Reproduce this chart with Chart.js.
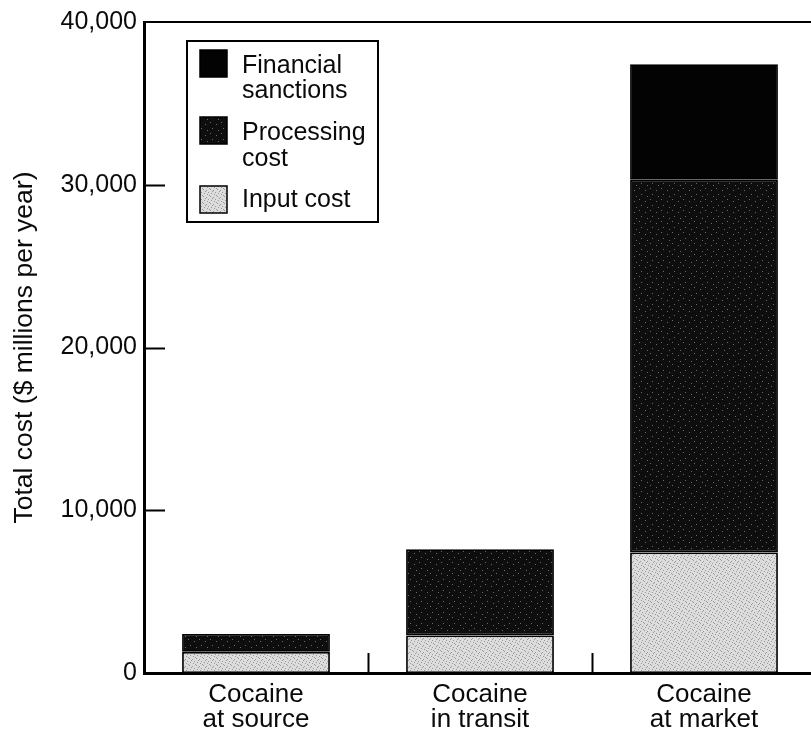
<!DOCTYPE html>
<html>
<head>
<meta charset="utf-8">
<script src="https://cdn.jsdelivr.net/npm/chart.js@4"></script>
<style>
  html, body { margin: 0; padding: 0; background: #fff; overflow: hidden; }
  #wrap { position: absolute; left: 0; top: 0; width: 816px; height: 739px; }
</style>
</head>
<body>
<div id="wrap"><canvas id="c" width="816" height="739"></canvas></div>
<script>
const categories = [['Cocaine', 'at source'], ['Cocaine', 'in transit'], ['Cocaine', 'at market']];
const inputCost = [1300, 2300, 7400];
const processingCost = [1100, 5300, 22900];
const financialSanctions = [null, null, 7100];
const yTicks = [0, 10000, 20000, 30000, 40000];
const seriesNames = ['Input cost', 'Processing cost', 'Financial sanctions'];
const legendLines = [['Financial', 'sanctions'], ['Processing', 'cost'], ['Input cost']];

const FONT = '"Liberation Sans", Arial, Helvetica, sans-serif';

function makePattern(base, dot, size, dots) {
  const c = document.createElement('canvas');
  c.width = size; c.height = size;
  const g = c.getContext('2d');
  g.fillStyle = base; g.fillRect(0, 0, size, size);
  g.fillStyle = dot;
  dots.forEach(([x, y]) => g.fillRect(x, y, 1, 1));
  return g.createPattern(c, 'repeat');
}
const inputFill = makePattern('#dcdcdc', '#9a9a9a', 7, [[0,0],[3,1],[5,3],[1,4],[4,5],[6,6],[2,2]]);
const procFill = makePattern('#0e0e0e', '#6a6a6a', 11, [[1,1],[7,3],[3,7],[9,9]]);
const sancFill = '#030303';

const decor = {
  id: 'decor',
  afterDraw(chart) {
    const { ctx, chartArea: a, scales: { x, y } } = chart;
    ctx.save();
    ctx.strokeStyle = '#000';
    ctx.lineWidth = 2;
    ctx.beginPath(); ctx.moveTo(a.left, a.top); ctx.lineTo(a.right, a.top); ctx.stroke();
    yTicks.forEach(v => {
      if (v <= 0 || v >= 40000) return;
      const py = Math.round(y.getPixelForValue(v)) + 0.5;
      ctx.beginPath(); ctx.moveTo(a.left, py); ctx.lineTo(a.left + 21, py); ctx.stroke();
    });
    for (let i = 1; i < categories.length; i++) {
      const px = Math.round((x.getPixelForValue(i - 1) + x.getPixelForValue(i)) / 2) + 0.5;
      ctx.beginPath(); ctx.moveTo(px, a.bottom); ctx.lineTo(px, a.bottom - 20); ctx.stroke();
    }
    const lx = a.left + 43, ly = a.top + 19, lw = 191, lh = 181;
    ctx.fillStyle = '#fff';
    ctx.fillRect(lx, ly, lw, lh);
    ctx.lineWidth = 2;
    ctx.strokeRect(lx, ly, lw, lh);
    const fills = [sancFill, procFill, inputFill];
    const swY = [50, 117, 186];
    const textBase = [[73, 98], [140, 166], [207]];
    ctx.font = '25px ' + FONT;
    ctx.textBaseline = 'alphabetic';
    ctx.textAlign = 'left';
    for (let k = 0; k < 3; k++) {
      ctx.fillStyle = fills[k];
      ctx.fillRect(200, swY[k], 27, 27);
      ctx.lineWidth = 1.5;
      ctx.strokeRect(200, swY[k], 27, 27);
      ctx.fillStyle = '#0a0a0a';
      legendLines[k].forEach((t, j) => ctx.fillText(t, 242, textBase[k][j]));
    }
    ctx.restore();
  }
};

new Chart(document.getElementById('c'), {
  type: 'bar',
  data: {
    labels: categories,
    datasets: [
      { label: seriesNames[0], data: inputCost, backgroundColor: inputFill, borderColor: '#000', borderWidth: 1.8, borderSkipped: false },
      { label: seriesNames[1], data: processingCost, backgroundColor: procFill, borderColor: '#000', borderWidth: 1.8, borderSkipped: false },
      { label: seriesNames[2], data: financialSanctions, backgroundColor: sancFill, borderColor: '#000', borderWidth: 1.8, borderSkipped: false }
    ]
  },
  options: {
    responsive: false,
    animation: false,
    events: [],
    layout: { padding: { top: 18, right: 0, left: 0, bottom: 0 } },
    plugins: { legend: { display: false }, tooltip: { enabled: false } },
    datasets: { bar: { categoryPercentage: 1, barPercentage: 0.66 } },
    scales: {
      x: {
        stacked: true,
        offset: true,
        grid: { display: false, drawTicks: false },
        border: { display: true, color: '#000', width: 3 },
        ticks: { color: '#0a0a0a', font: { family: FONT, size: 26, lineHeight: 0.97 }, padding: 9, maxRotation: 0 },
        afterFit(s) { s.height = 66; }
      },
      y: {
        stacked: true,
        min: 0, max: 40000,
        afterBuildTicks(s) { s.ticks = yTicks.map(v => ({ value: v })); },
        grid: { display: false, drawTicks: false },
        border: { display: true, color: '#000', width: 3 },
        ticks: { color: '#0a0a0a', font: { family: FONT, size: 25 }, padding: 7,
          callback: v => v.toLocaleString('en-US') },
        title: { display: true, text: 'Total cost ($ millions per year)', color: '#0a0a0a',
          font: { family: FONT, size: 26.5 }, padding: { top: 9, bottom: 0 } },
        afterFit(s) { s.width = 144; }
      }
    }
  },
  plugins: [decor]
});
</script>
</body>
</html>
